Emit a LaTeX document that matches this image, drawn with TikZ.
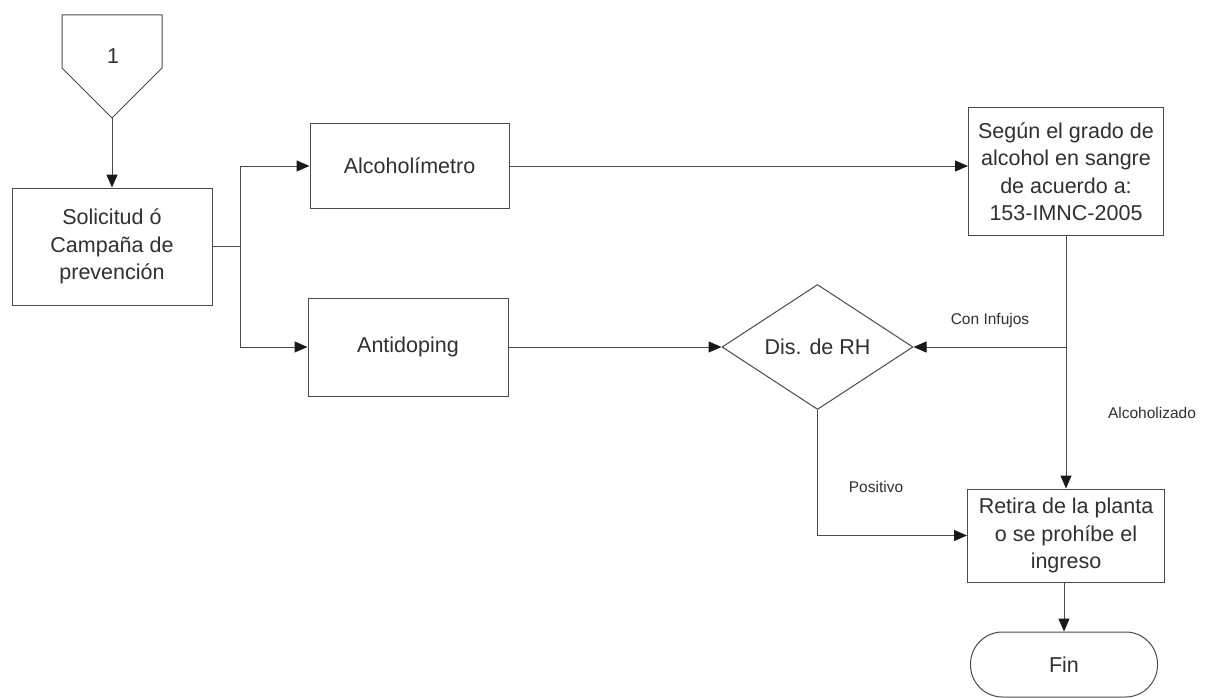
\documentclass[tikz,border=0pt]{standalone}
\usepackage{fontspec}
\setmainfont{Liberation Sans}
\usetikzlibrary{shapes.geometric,arrows.meta}
\definecolor{ln}{HTML}{4A4A4A}
\definecolor{tx}{HTML}{303030}
\tikzset{
  box/.style={draw=ln, line width=1pt, fill=white, rectangle, align=center, text=tx,
    font=\fontsize{21.5}{27.5}\selectfont, inner sep=0pt},
  dec/.style={draw=ln, line width=1pt, fill=white, diamond, align=center, text=tx,
    font=\fontsize{21.5}{27.5}\selectfont, inner sep=0pt},
  lbl/.style={text=tx, font=\fontsize{15.5}{18}\selectfont, inner sep=0pt},
  wire/.style={draw=ln, line width=1pt},
  arr/.style={wire, -{Triangle[length=13pt,width=11pt,color=black!90]}}
}
\begin{document}
\begin{tikzpicture}[x=1pt,y=-1pt]
\useasboundingbox (0,0) rectangle (1215,698);
% off-page connector
\draw[wire, fill=white] (62,15) -- (162,15) -- (162,68) -- (112,118) -- (62,68) -- cycle;
\node[text=tx, font=\fontsize{21.5}{27.5}\selectfont, inner sep=0pt] (conn) at (113,56) {1};
\coordinate (tip) at (112,118);

\node[box, minimum width=200pt, minimum height=117pt] (sol) at (112,246.5) {Solicitud ó\\Campaña de\\prevención};
\node[box, minimum width=199pt, minimum height=85pt] (alc) at (409.5,166) {Alcoholímetro};
\node[box, minimum width=200pt, minimum height=98pt] (anti) at (408,347) {Antidoping};
\node[box, minimum width=195pt, minimum height=127pt] (seg) at (1066,171.5) {Según el grado de\\alcohol en sangre\\de acuerdo a:\\153-IMNC-2005};
\node[dec, minimum width=191pt, minimum height=125pt] (dia) at (817.5,347) {Dis. de RH};
\node[box, minimum width=197pt, minimum height=93pt] (ret) at (1066,535.5) {Retira de la planta\\o se prohíbe el\\ingreso};
\node[box, minimum width=187pt, minimum height=65pt, rounded corners=32pt] (fin) at (1064,664.5) {Fin};

\node[lbl] (lcon) at (990,320) {Con Infujos};
\node[lbl] (lalc) at (1152,413) {Alcoholizado};
\node[lbl] (lpos) at (876,487) {Positivo};

\draw[arr] (tip) -- (sol.north);
\draw[wire] (sol.east) -- ++(28,0) coordinate (br);
\draw[arr] (br) |- (alc.west);
\draw[arr] (br) |- (anti.west);
\draw[arr] (alc.east) -- (alc.east -| seg.west);
\draw[arr] (anti.east) -- (dia.west);
\draw[arr] (seg.south) -- (seg.south |- ret.north);
\coordinate (j) at (seg.south |- dia.east);
\draw[arr] (j) -- (dia.east);
\draw[arr] (dia.south) |- (ret.west);
\draw[arr] (ret.south -| fin.north) -- (fin.north);
\end{tikzpicture}
\end{document}
